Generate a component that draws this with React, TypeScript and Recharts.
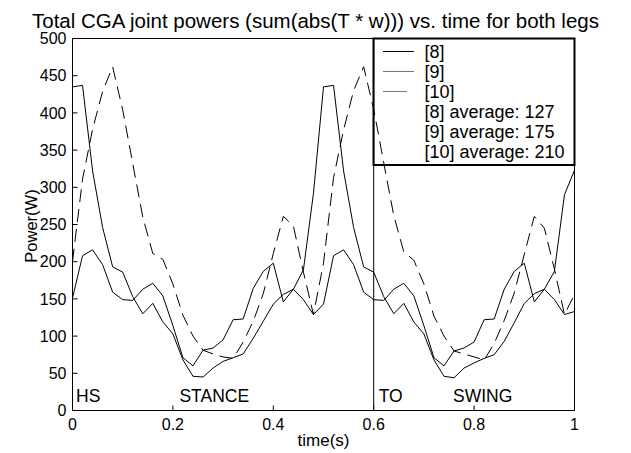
import React from 'react';
import { LineChart, Line, XAxis, YAxis, ReferenceLine, ReferenceDot } from 'recharts';

const time = [
  0, 0.02, 0.04, 0.06, 0.08, 0.1, 0.12, 0.14, 0.16, 0.18, 0.2, 0.22, 0.24, 0.26, 0.28, 0.3, 0.32, 0.34,
  0.36, 0.38, 0.4, 0.42, 0.44, 0.46, 0.48, 0.5, 0.52, 0.54, 0.56, 0.58, 0.6, 0.62, 0.64, 0.66, 0.68,
  0.7, 0.72, 0.74, 0.76, 0.78, 0.8, 0.82, 0.84, 0.86, 0.88, 0.9, 0.92, 0.94, 0.96, 0.98, 1.0,
];
const power8 = [
  151, 208, 216, 196, 159, 149, 148, 163, 171, 154, 114, 71, 60, 81, 84, 95, 122, 123,
  164, 187, 198, 146, 163, 189, 292, 435, 437, 322, 246, 193, 186, 153, 130, 144, 119,
  103, 68, 46, 44, 57, 64, 70, 75, 93, 118, 144, 157, 163, 149, 129, 133,
];
const power9 = [
  435, 437, 322, 246, 193, 186, 153, 130, 144, 119, 103, 68, 46, 45, 57, 66, 71, 76,
  97, 120, 143, 156, 163, 149, 129, 143, 208, 216, 196, 159, 149, 148, 163, 171, 154,
  114, 71, 60, 80, 84, 92, 122, 123, 163, 187, 198, 146, 163, 187, 290, 323,
];
const power10 = [
  200, 311, 378, 429, 462, 404, 332, 260, 211, 203, 170, 128, 100, 81, 76, 72, 70, 92,
  120, 157, 211, 261, 248, 186, 129, 198, 313, 377, 430, 462, 405, 333, 262, 213, 202,
  170, 127, 100, 80, 76, 72, 68, 90, 121, 158, 210, 261, 245, 190, 129, 156,
];

const xTicks = [0, 0.2, 0.4, 0.6, 0.8, 1];
const xTickLabels = ['0', '0.2', '0.4', '0.6', '0.8', '1'];
const yTicks = [0, 50, 100, 150, 200, 250, 300, 350, 400, 450, 500];
const phaseLabels = ['HS', 'STANCE', 'TO', 'SWING'];
const phaseTimes = [0.007, 0.213, 0.61, 0.758];
const phaseLevel = 12;
const toeOffTime = 0.6;
const legendLabels = ['[8]', '[9]', '[10]', '[8] average: 127', '[9] average: 175', '[10] average: 210'];
const titleText = 'Total CGA joint powers (sum(abs(T * w))) vs. time for both legs';
const xLabel = 'time(s)';
const yLabel = 'Power(W)';

const data = time.map((t, i) => ({ t, p8: power8[i], p9: power9[i], p10: power10[i] }));

const FONT = 'Liberation Sans, Arial, Helvetica, sans-serif';
const tickStyle = { fontSize: 16, fill: '#000', fontFamily: FONT };

export default function App() {
  const W = 631;
  const H = 453;
  return (
    <div style={{ position: 'absolute', left: 0, top: 0, width: W, height: H, background: '#fff' }}>
      <LineChart
        width={W}
        height={H}
        data={data}
        margin={{ top: 37.5, right: 55.5, bottom: 12.5, left: 20.5 }}
      >
        <XAxis
          xAxisId="b"
          dataKey="t"
          type="number"
          domain={[0, 1]}
          ticks={xTicks}
          tickFormatter={(v: number) => xTickLabels[xTicks.indexOf(v)] ?? String(v)}
          tickSize={-5}
          tickMargin={13}
          height={30}
          axisLine={{ stroke: '#000' }}
          tickLine={{ stroke: '#000' }}
          tick={tickStyle}
          interval={0}
        />
        <XAxis
          xAxisId="top"
          orientation="top"
          dataKey="t"
          type="number"
          domain={[0, 1]}
          ticks={xTicks}
          tickSize={-5}
          height={1}
          axisLine={{ stroke: '#000' }}
          tickLine={{ stroke: '#000' }}
          tick={false}
          interval={0}
        />
        <YAxis
          yAxisId="l"
          type="number"
          domain={[0, 500]}
          ticks={yTicks}
          tickSize={-5}
          tickMargin={11}
          width={52}
          axisLine={{ stroke: '#000' }}
          tickLine={{ stroke: '#000' }}
          tick={tickStyle}
          interval={0}
        />
        <YAxis
          yAxisId="r"
          orientation="right"
          type="number"
          domain={[0, 500]}
          ticks={yTicks}
          tickSize={-5}
          width={1}
          axisLine={{ stroke: '#000' }}
          tickLine={{ stroke: '#000' }}
          tick={false}
          interval={0}
        />
        <ReferenceLine xAxisId="b" yAxisId="l" x={toeOffTime} stroke="#000" strokeWidth={1} />
        <Line
          xAxisId="b"
          yAxisId="l"
          dataKey="p8"
          stroke="#000"
          strokeWidth={1}
          dot={false}
          isAnimationActive={false}
          type="linear"
        />
        <Line
          xAxisId="b"
          yAxisId="l"
          dataKey="p9"
          stroke="#000"
          strokeWidth={1}
          dot={false}
          isAnimationActive={false}
          type="linear"
        />
        <Line
          xAxisId="b"
          yAxisId="l"
          dataKey="p10"
          stroke="#000"
          strokeWidth={1}
          strokeDasharray="13 7"
          dot={false}
          isAnimationActive={false}
          type="linear"
        />
        {phaseLabels.map((txt, i) => (
          <ReferenceDot
            key={txt}
            xAxisId="b"
            yAxisId="l"
            x={phaseTimes[i]}
            y={phaseLevel}
            r={0}
            fill="none"
            stroke="none"
            label={(p: any) => (
              <text
                x={p.viewBox.x}
                y={p.viewBox.y}
                fontSize={17.5}
                fontFamily={FONT}
                fill="#000"
                textAnchor="start"
              >
                {txt}
              </text>
            )}
          />
        ))}
      </LineChart>
      <svg
        width={W}
        height={H}
        style={{ position: 'absolute', left: 0, top: 0, pointerEvents: 'none' }}
      >
        <text x={315.5} y={27.5} textAnchor="middle" fontSize={20.5} fontFamily={FONT} fill="#000">
          {titleText}
        </text>
        <text x={323.5} y={446} textAnchor="middle" fontSize={17} fontFamily={FONT} fill="#000">
          {xLabel}
        </text>
        <text
          transform="translate(37,226) rotate(-90)"
          textAnchor="middle"
          fontSize={16.5}
          fontFamily={FONT}
          fill="#000"
        >
          {yLabel}
        </text>
        <rect x={373.5} y={38.5} width={201} height={126.5} fill="none" stroke="#000" strokeWidth={2} />
        {legendLabels.map((lbl, i) => (
          <text key={lbl} x={424.5} y={57.5 + i * 20.1} fontSize={18} fontFamily={FONT} fill="#000">
            {lbl}
          </text>
        ))}
        <line x1={383} x2={414} y1={51.5} y2={51.5} stroke="#000" strokeWidth={1} />
        <line x1={383} x2={414} y1={71.5} y2={71.5} stroke="#777" strokeWidth={1} />
        <line x1={383} x2={407} y1={91.5} y2={91.5} stroke="#777" strokeWidth={1} />
      </svg>
    </div>
  );
}
